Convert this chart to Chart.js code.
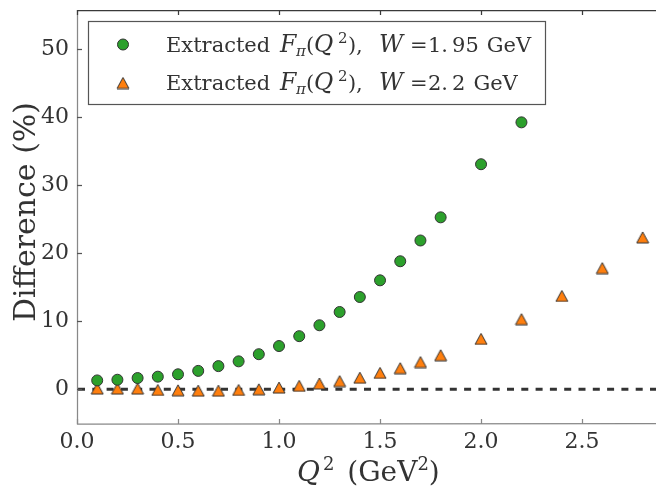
<!DOCTYPE html>
<html>
<head>
<meta charset="utf-8">
<script src="https://cdn.jsdelivr.net/npm/chart.js@4.4.1/dist/chart.umd.min.js"></script>
<style>
  html, body { margin: 0; padding: 0; background: #fff; }
  canvas { display: block; }
</style>
</head>
<body>
<canvas id="myChart" width="656" height="489"></canvas>
<script>
// Q^2 values (GeV^2)
const q2W195 = [0.1, 0.2, 0.3, 0.4, 0.5, 0.6, 0.7, 0.8, 0.9, 1.0, 1.1, 1.2, 1.3, 1.4, 1.5, 1.6, 1.7, 1.8, 2.0, 2.2];
const diffW195 = [1.3, 1.4, 1.65, 1.85, 2.2, 2.7, 3.4, 4.1, 5.15, 6.35, 7.8, 9.4, 11.35, 13.55, 16.0, 18.8, 21.85, 25.25, 33.05, 39.2];

const q2W22 = [0.1, 0.2, 0.3, 0.4, 0.5, 0.6, 0.7, 0.8, 0.9, 1.0, 1.1, 1.2, 1.3, 1.4, 1.5, 1.6, 1.7, 1.8, 2.0, 2.2, 2.4, 2.6, 2.8];
const diffW22 = [0.1, 0.1, 0.1, -0.1, -0.15, -0.2, -0.2, -0.1, 0.0, 0.25, 0.5, 0.85, 1.2, 1.7, 2.4, 3.1, 4.0, 5.0, 7.4, 10.3, 13.7, 17.8, 22.3];

const wValues = ["1.95", "2.2"];
const xTicks = [0.0, 0.5, 1.0, 1.5, 2.0, 2.5];
const yTicks = [0, 10, 20, 30, 40, 50];

const verde = "#2ca02c";
const naranja = "#ff7f0e";
const borde = "#333333";
const fuente = "'DejaVu Serif', 'Liberation Serif', serif";

// triangulo centrado como en matplotlib
const hacerTriangulo = () => {
  const c = document.createElement("canvas");
  c.width = 14;
  c.height = 13;
  const g = c.getContext("2d");
  g.beginPath();
  g.moveTo(7, 1);
  g.lineTo(13, 12);
  g.lineTo(1, 12);
  g.closePath();
  g.fillStyle = naranja;
  g.fill();
  g.strokeStyle = borde;
  g.lineWidth = 1;
  g.stroke();
  return c;
};
const triangulo = hacerTriangulo();

const toPoints = (xs, ys) => xs.map((x, i) => ({ x: x, y: ys[i] }));

// dibuja texto por partes; si una parte trae "x" se pone ahi
const textoRico = (ctx, partes, x, y) => {
  let cx = x;
  partes.forEach((p) => {
    ctx.font = p.f;
    if (p.x !== undefined) cx = x + p.x;
    cx += p.pl || 0;
    ctx.fillText(p.t, cx, y + (p.dy || 0));
    cx += ctx.measureText(p.t).width;
  });
  return cx;
};

const etiqueta = (w) => {
  const n = "21px " + fuente;
  const it = "italic 23.5px " + fuente;
  const sm = "italic 15px " + fuente;
  const sup = "15px " + fuente;
  const [ent, dec] = w.split(".");
  return [
    { t: "Extracted", f: n, x: 0 },
    { t: "F", f: it, x: 114 },
    { t: "\u03c0", f: sm, dy: 4, x: 130 },
    { t: "(", f: n, x: 140 },
    { t: "Q", f: it, x: 148 },
    { t: "2", f: sup, dy: -9, x: 172 },
    { t: ")", f: n, x: 182 },
    { t: ",", f: n, x: 190 },
    { t: "W", f: it, x: 213 },
    { t: "=", f: n, x: 244 },
    { t: ent + ".", f: n, x: 262 },
    { t: dec, f: n, pl: 4 },
    { t: "GeV", f: n, pl: 8 },
  ];
};

const decoraciones = {
  id: "decoraciones",
  beforeDatasetsDraw(chart) {
    const { ctx, chartArea, scales } = chart;
    const y0 = scales.y.getPixelForValue(0);
    ctx.save();
    ctx.strokeStyle = "#333";
    ctx.lineWidth = 3;
    ctx.setLineDash([7, 7.3]);
    ctx.beginPath();
    ctx.moveTo(chartArea.left + 1, y0);
    ctx.lineTo(chartArea.right, y0);
    ctx.stroke();
    ctx.restore();
  },
  afterDraw(chart) {
    const { ctx, chartArea, scales } = chart;
    const { left, right, top, bottom } = chartArea;
    ctx.save();
    ctx.setLineDash([]);

    // ejes
    ctx.lineWidth = 1.25;
    ctx.strokeStyle = "#888";
    ctx.beginPath();
    ctx.moveTo(left + 0.5, top);
    ctx.lineTo(left + 0.5, bottom);
    ctx.lineTo(right, bottom - 0.5);
    ctx.stroke();
    ctx.strokeStyle = "#3a3a3a";
    ctx.beginPath();
    ctx.moveTo(left, top + 0.5);
    ctx.lineTo(right, top + 0.5);
    ctx.stroke();

    // ticks hacia adentro
    xTicks.forEach((v) => {
      const px = Math.round(scales.x.getPixelForValue(v)) + 0.5;
      ctx.strokeStyle = "#888";
      ctx.beginPath();
      ctx.moveTo(px, bottom);
      ctx.lineTo(px, bottom - 5);
      ctx.stroke();
      ctx.strokeStyle = "#3a3a3a";
      ctx.beginPath();
      ctx.moveTo(px, top);
      ctx.lineTo(px, top + 5);
      ctx.stroke();
    });
    ctx.strokeStyle = "#555";
    yTicks.forEach((v) => {
      const py = Math.round(scales.y.getPixelForValue(v)) + 0.5;
      ctx.beginPath();
      ctx.moveTo(left, py);
      ctx.lineTo(left + 5, py);
      ctx.stroke();
    });

    // leyenda
    ctx.fillStyle = "#fff";
    ctx.fillRect(88, 21, 458, 83);
    ctx.strokeStyle = "#555";
    ctx.lineWidth = 1.2;
    ctx.strokeRect(88.5, 21.5, 457, 83);

    ctx.beginPath();
    ctx.arc(123, 44.5, 5.5, 0, Math.PI * 2);
    ctx.fillStyle = verde;
    ctx.fill();
    ctx.strokeStyle = borde;
    ctx.lineWidth = 1;
    ctx.stroke();
    ctx.drawImage(triangulo, 123 - 7, 83 - 6.5);

    ctx.fillStyle = "#333";
    ctx.textBaseline = "alphabetic";
    ctx.textAlign = "left";
    textoRico(ctx, etiqueta(wValues[0]), 166, 52);
    textoRico(ctx, etiqueta(wValues[1]), 166, 90);

    // titulo eje x
    const partesX = [
      { t: "Q", f: "italic 28px " + fuente },
      { t: "2", f: "18px " + fuente, dy: -11, pl: 3 },
      { t: " (GeV", f: "28px " + fuente, pl: 4 },
      { t: "2", f: "18px " + fuente, dy: -11 },
      { t: ")", f: "28px " + fuente },
    ];
    textoRico(ctx, partesX, 297, 481);

    // titulo eje y
    ctx.save();
    ctx.translate(35, 212);
    ctx.rotate(-Math.PI / 2);
    ctx.font = "30px " + fuente;
    ctx.textAlign = "center";
    ctx.textBaseline = "alphabetic";
    ctx.fillText("Difference (%)", 0, 0);
    ctx.restore();

    ctx.restore();
  },
};

const ctx = document.getElementById("myChart");

new Chart(ctx, {
  type: "scatter",
  data: {
    datasets: [
      {
        label: "W=1.95",
        data: toPoints(q2W195, diffW195),
        pointStyle: "circle",
        pointRadius: 5.5,
        pointBackgroundColor: verde,
        pointBorderColor: borde,
        pointBorderWidth: 1,
      },
      {
        label: "W=2.2",
        data: toPoints(q2W22, diffW22),
        pointStyle: triangulo,
        pointRadius: 6,
      },
    ],
  },
  options: {
    responsive: false,
    animation: false,
    devicePixelRatio: 1,
    events: [],
    layout: { autoPadding: false, padding: { top: 10, left: 0, right: 0, bottom: 0 } },
    plugins: {
      legend: { display: false },
      tooltip: { enabled: false },
    },
    scales: {
      x: {
        type: "linear",
        min: 0,
        max: 2.866,
        grid: { display: false, drawTicks: false },
        border: { display: false },
        afterBuildTicks: (scale) => {
          scale.ticks = xTicks.map((v) => ({ value: v }));
        },
        afterFit: (scale) => {
          scale.height = 65;
          scale.paddingLeft = 0;
          scale.paddingRight = 0;
        },
        ticks: {
          padding: 5,
          color: "#333",
          font: { family: fuente, size: 22 },
          maxRotation: 0,
          callback: (v) => Number(v).toFixed(1),
        },
      },
      y: {
        min: -5.1,
        max: 55.7,
        grid: { display: false, drawTicks: false },
        border: { display: false },
        afterBuildTicks: (scale) => {
          scale.ticks = yTicks.map((v) => ({ value: v }));
        },
        afterFit: (scale) => {
          scale.width = 77;
          scale.paddingTop = 0;
          scale.paddingBottom = 0;
        },
        ticks: {
          padding: 8,
          color: "#333",
          font: { family: fuente, size: 22 },
        },
      },
    },
  },
  plugins: [decoraciones],
});
</script>
</body>
</html>
